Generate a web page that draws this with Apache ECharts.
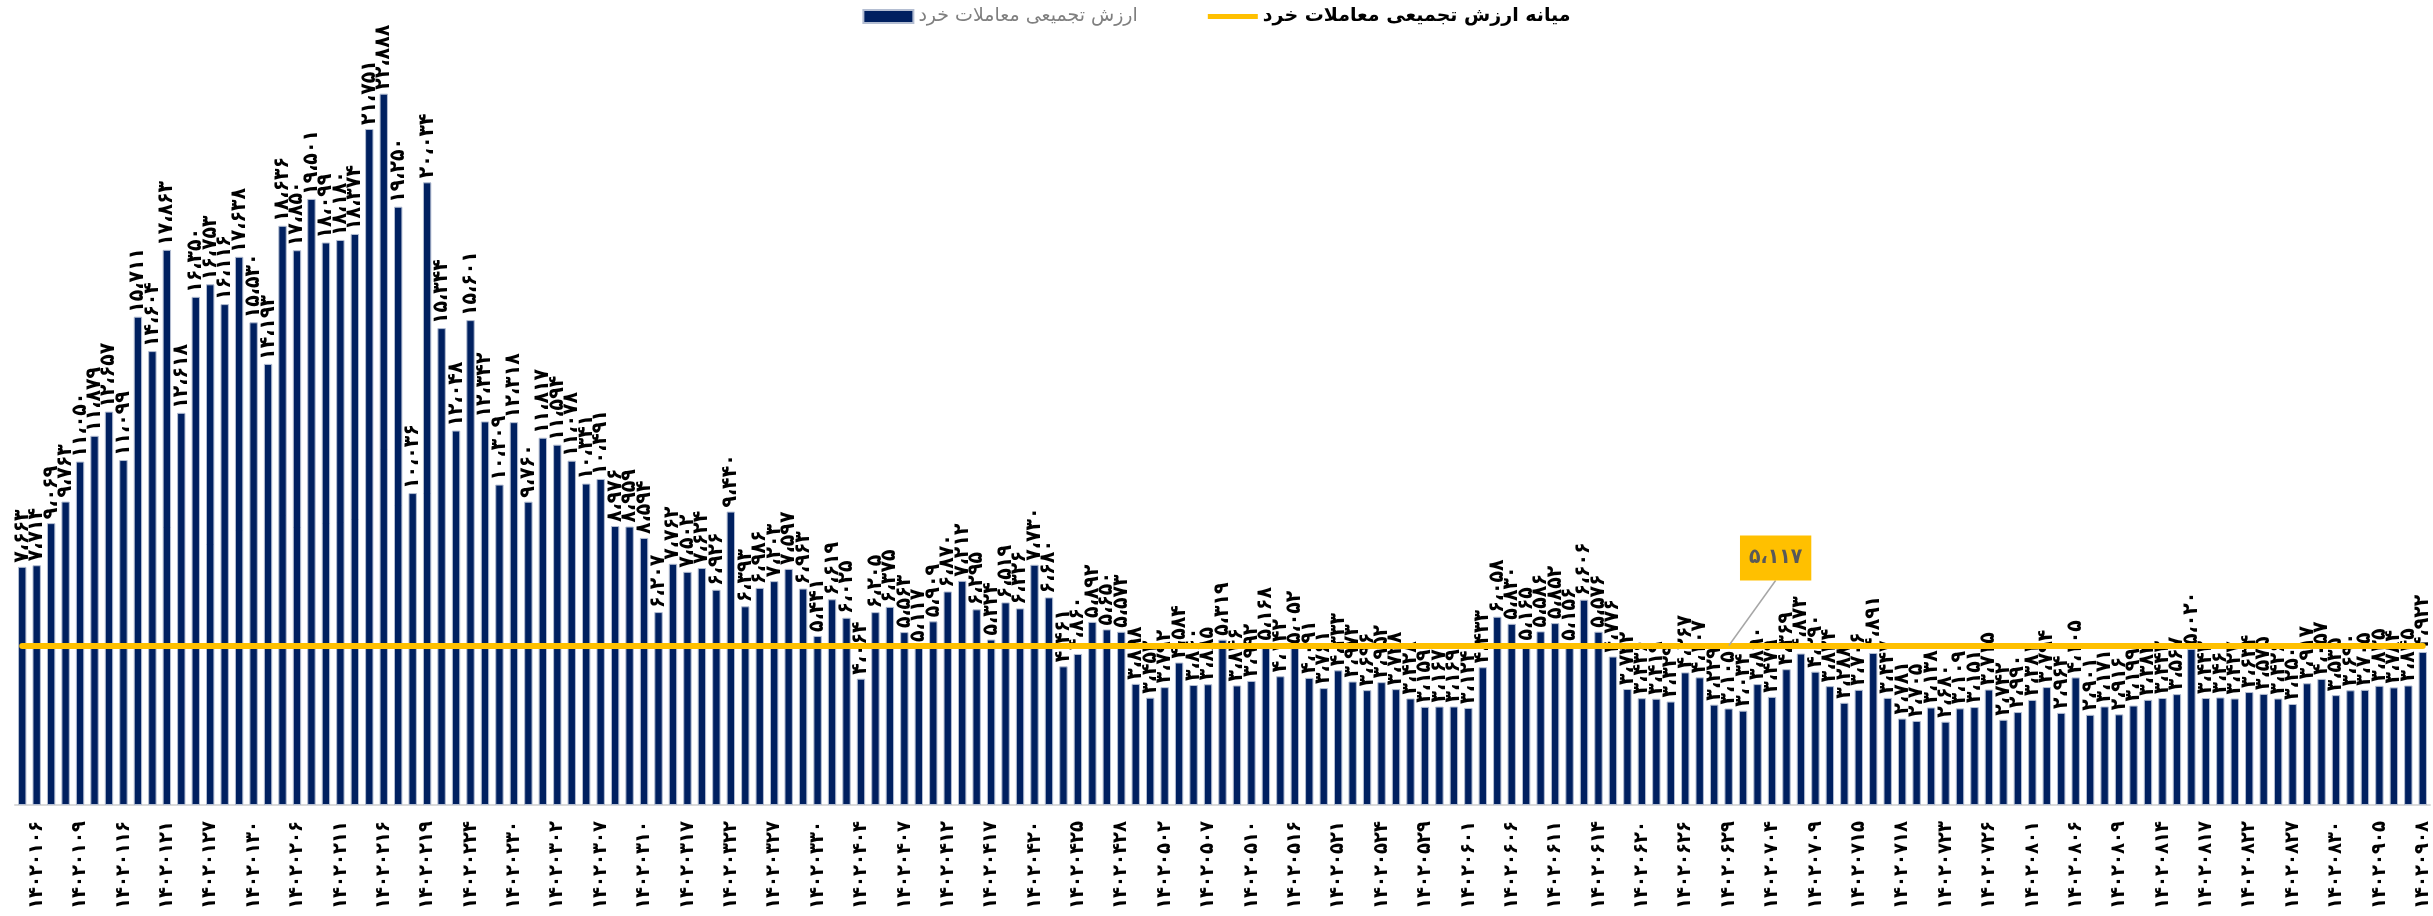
<!DOCTYPE html>
<html>
<head>
    <meta charset="UTF-8">
    <title>ECharts</title>
    <script src="https://cdn.jsdelivr.net/npm/echarts@6/dist/echarts.min.js"></script>
    <style>
        html, body { margin: 0; padding: 0; background: #fff; }
        #main { width: 2433px; height: 916px; }
    </style>
</head>
<body>
    <div id="main"></div>
    <script type="text/javascript">
        // trading days (1402), one label shown every 3rd day
        var dates = [
            '14020105','14020106','14020107','14020108','14020109','14020114','14020115','14020116','14020119','14020120',
            '14020121','14020122','14020126','14020127','14020128','14020129','14020130','14020204','14020205','14020206',
            '14020209','14020210','14020211','14020212','14020213','14020216','14020217','14020218','14020219','14020220',
            '14020223','14020224','14020225','14020227','14020230','14020231','14020301','14020302','14020303','14020306',
            '14020307','14020308','14020309','14020310','14020313','14020316','14020317','14020320','14020321','14020322',
            '14020323','14020324','14020327','14020328','14020329','14020330','14020331','14020403','14020404','14020405',
            '14020406','14020407','14020410','14020411','14020412','14020413','14020414','14020417','14020418','14020419',
            '14020420','14020421','14020424','14020425','14020426','14020427','14020428','14020431','14020501','14020502',
            '14020503','14020504','14020507','14020508','14020509','14020510','14020514','14020515','14020516','14020517',
            '14020518','14020521','14020522','14020523','14020524','14020525','14020528','14020529','14020530','14020531',
            '14020601','14020604','14020605','14020606','14020607','14020608','14020611','14020612','14020613','14020614',
            '14020618','14020619','14020620','14020621','14020622','14020626','14020627','14020628','14020629','14020702',
            '14020703','14020704','14020705','14020708','14020709','14020710','14020712','14020715','14020716','14020717',
            '14020718','14020719','14020722','14020723','14020724','14020725','14020726','14020729','14020730','14020801',
            '14020802','14020803','14020806','14020807','14020808','14020809','14020810','14020813','14020814','14020815',
            '14020816','14020817','14020820','14020821','14020822','14020823','14020824','14020827','14020828','14020829',
            '14020830','14020901','14020904','14020905','14020906','14020907','14020908'
        ];

        // ارزش تجمیعی معاملات خرد
        var retailValue = [
            7663, 7714, 9069, 9763, 11050, 11879, 12657, 11099, 15711, 14604,
            17863, 12618, 16350, 16753, 16116, 17638, 15530, 14193, 18636, 17850,
            19501, 18099, 18180, 18374, 21751, 22888, 19250, 10036, 20034, 15344,
            12048, 15601, 12342, 10309, 12318, 9760, 11817, 11594, 11078, 10341,
            10491, 8976, 8959, 8594, 6207, 7762, 7502, 7624, 6926, 9440,
            6393, 6986, 7203, 7597, 6963, 5441, 6619, 6025, 4064, 6205,
            6375, 5563, 5117, 5909, 6870, 7212, 6295, 5324, 6519, 6326,
            7730, 6680, 4461, 4860, 5892, 5650, 5573, 3898, 3452, 3792,
            4584, 3860, 3885, 5319, 3846, 3992, 5168, 4142, 5052, 4091,
            3761, 4333, 3973, 3696, 3952, 3728, 3428, 3159, 3167, 3169,
            3124, 4433, 6058, 5830, 5165, 5586, 5852, 5156, 6606, 5576,
            4776, 3732, 3436, 3419, 3329, 4267, 4107, 3229, 3105, 3034,
            3890, 3479, 4369, 4873, 4290, 3824, 3288, 3706, 4891, 3447,
            2781, 2705, 3138, 2680, 3109, 3151, 3715, 2742, 2990, 3381,
            3794, 2964, 4105, 2901, 3171, 2916, 3199, 3384, 3442, 3567,
            5020, 3442, 3460, 3427, 3634, 3575, 3426, 3250, 3917, 4057,
            3535, 3690, 3705, 3835, 3784, 3845, 4922
        ];

        // میانه ارزش تجمیعی معاملات خرد
        var medianValue = 5117;
        var calloutIndex = 118;

        var faDigits = '۰۱۲۳۴۵۶۷۸۹';
        function toFa(s) {
            return String(s).replace(/[0-9]/g, function (d) { return faDigits[+d]; });
        }
        function fmtNum(v) {
            return toFa(Number(v).toLocaleString('en-US')).replace(/,/g, '،');
        }

        // only the callout point gets a (tiny) symbol so its label is drawn
        var medianLine = dates.map(function (d, i) {
            if (i === calloutIndex) {
                return {
                    value: medianValue,
                    symbol: 'circle',
                    symbolSize: 1,
                    label: {
                        show: true,
                        position: 'top',
                        formatter: fmtNum(medianValue),
                        backgroundColor: '#FFC000',
                        color: '#595959',
                        fontSize: 21,
                        fontWeight: 'bold',
                        fontFamily: 'DejaVu Sans Condensed, DejaVu Sans',
                        padding: [12, 9]
                    }
                };
            }
            return medianValue;
        });

        var myChart = echarts.init(document.getElementById('main'));

        var option = {
            animation: false,
            backgroundColor: '#ffffff',
            legend: {
                top: 2,
                left: 'center',
                itemWidth: 50,
                itemHeight: 13,
                itemGap: 70,
                textStyle: {
                    fontSize: 19,
                    fontFamily: 'DejaVu Sans'
                },
                data: [
                    { name: 'ارزش تجمیعی معاملات خرد', icon: 'rect', textStyle: { color: '#7F7F7F' } },
                    {
                        name: 'میانه ارزش تجمیعی معاملات خرد',
                        icon: 'path://M0,0L60,0L60,6L0,6Z',
                        textStyle: { color: '#000000', fontWeight: 'bold' }
                    }
                ]
            },
            grid: {
                left: 15,
                right: 3,
                top: 28,
                bottom: 111
            },
            xAxis: {
                type: 'category',
                data: dates,
                axisLine: { lineStyle: { color: '#D9D9D9', width: 2 } },
                axisTick: { show: false },
                axisLabel: {
                    interval: function (i) { return i % 3 === 1; },
                    rotate: 90,
                    margin: 16,
                    color: '#000',
                    fontSize: 20,
                    fontWeight: 'bold',
                    fontFamily: 'DejaVu Sans Condensed, DejaVu Sans',
                    formatter: function (v) { return toFa(v); }
                }
            },
            yAxis: {
                type: 'value',
                min: 0,
                max: 25000,
                show: false,
                splitLine: { show: false }
            },
            series: [
                {
                    name: 'ارزش تجمیعی معاملات خرد',
                    type: 'bar',
                    data: retailValue,
                    barWidth: '58%',
                    itemStyle: {
                        color: '#002060',
                        borderColor: '#B4BED2',
                        borderWidth: 1
                    },
                    label: {
                        show: true,
                        position: 'top',
                        distance: 4,
                        rotate: 90,
                        align: 'left',
                        verticalAlign: 'middle',
                        color: '#000',
                        fontSize: 21,
                        fontWeight: 'bold',
                        fontFamily: 'DejaVu Sans Condensed, DejaVu Sans',
                        formatter: function (p) { return fmtNum(p.value); }
                    }
                },
                {
                    name: 'میانه ارزش تجمیعی معاملات خرد',
                    type: 'line',
                    data: medianLine,
                    symbol: 'none',
                    showSymbol: true,
                    lineStyle: { color: '#FFC000', width: 6, cap: 'round' },
                    itemStyle: { color: '#FFC000' },
                    labelLayout: { dx: 47, dy: -60 },
                    labelLine: {
                        show: true,
                        lineStyle: { color: '#A6A6A6', width: 1.5 }
                    }
                }
            ]
        };

        myChart.setOption(option);
    </script>
</body>
</html>
